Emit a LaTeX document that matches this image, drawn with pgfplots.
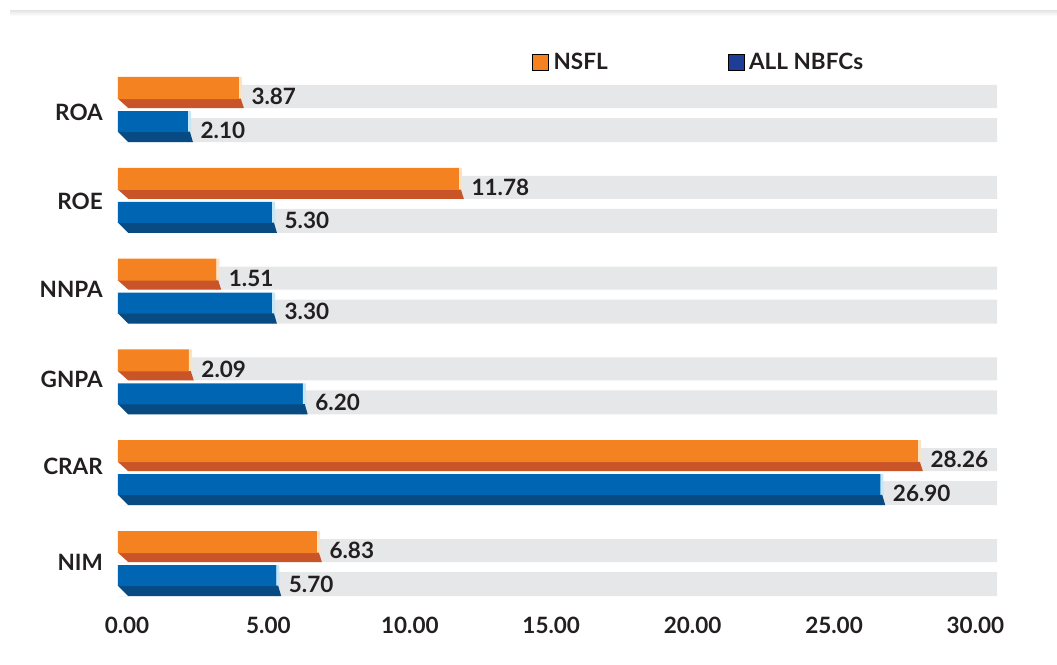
\documentclass[border=0pt]{standalone}
\usepackage{pgfplots}
\pgfplotsset{compat=1.18}
\usepackage{pgfplotstable}
\usepackage{fontspec}
\setmainfont{Lato}
\definecolor{org}{HTML}{F58220}
\definecolor{odark}{HTML}{C85427}
\definecolor{ocream}{HTML}{FDE3C6}
\definecolor{blu}{HTML}{0066B3}
\definecolor{bdark}{HTML}{074B82}
\definecolor{blight}{HTML}{C6E7F8}
\definecolor{band}{HTML}{E6E7E8}
\definecolor{txt}{HTML}{231F20}
\definecolor{legblue}{HTML}{1F3D96}

% end caps and left cuts of the 3D-looking bars (offsets in pt from the group centre)
\pgfdeclareplotmark{oend}{%
  \pgfsetfillcolor{ocream}%
  \pgfpathmoveto{\pgfqpoint{-0.3pt}{32.5pt}}\pgfpathlineto{\pgfqpoint{2.5pt}{32.5pt}}%
  \pgfpathlineto{\pgfqpoint{3.2pt}{10.5pt}}\pgfpathlineto{\pgfqpoint{-0.3pt}{10.5pt}}\pgfpathclose\pgfusepath{fill}%
  \pgfsetfillcolor{odark}%
  \pgfpathmoveto{\pgfqpoint{-0.5pt}{10.8pt}}\pgfpathlineto{\pgfqpoint{1.5pt}{10.8pt}}%
  \pgfpathlineto{\pgfqpoint{4.5pt}{1.5pt}}\pgfpathlineto{\pgfqpoint{-0.5pt}{1.5pt}}\pgfpathclose\pgfusepath{fill}%
}
\pgfdeclareplotmark{bend}{%
  \pgfsetfillcolor{blight}%
  \pgfpathmoveto{\pgfqpoint{-0.3pt}{-1.5pt}}\pgfpathlineto{\pgfqpoint{2.5pt}{-1.5pt}}%
  \pgfpathlineto{\pgfqpoint{3.2pt}{-22.5pt}}\pgfpathlineto{\pgfqpoint{-0.3pt}{-22.5pt}}\pgfpathclose\pgfusepath{fill}%
  \pgfsetfillcolor{bdark}%
  \pgfpathmoveto{\pgfqpoint{-0.5pt}{-22.2pt}}\pgfpathlineto{\pgfqpoint{1.5pt}{-22.2pt}}%
  \pgfpathlineto{\pgfqpoint{4.5pt}{-32.5pt}}\pgfpathlineto{\pgfqpoint{-0.5pt}{-32.5pt}}\pgfpathclose\pgfusepath{fill}%
}
\pgfdeclareplotmark{owhite}{%
  \pgfsetfillcolor{white}%
  \pgfpathmoveto{\pgfqpoint{-1pt}{10.5pt}}\pgfpathlineto{\pgfqpoint{0pt}{10.5pt}}%
  \pgfpathlineto{\pgfqpoint{10pt}{1.5pt}}\pgfpathlineto{\pgfqpoint{10pt}{1.0pt}}%
  \pgfpathlineto{\pgfqpoint{-1pt}{1.0pt}}\pgfpathclose\pgfusepath{fill}%
}
\pgfdeclareplotmark{bwhite}{%
  \pgfsetfillcolor{white}%
  \pgfpathmoveto{\pgfqpoint{-1pt}{-22.5pt}}\pgfpathlineto{\pgfqpoint{0pt}{-22.5pt}}%
  \pgfpathlineto{\pgfqpoint{10pt}{-32.5pt}}\pgfpathlineto{\pgfqpoint{10pt}{-33pt}}%
  \pgfpathlineto{\pgfqpoint{-1pt}{-33pt}}\pgfpathclose\pgfusepath{fill}%
}

% y: ROA=5 ... NIM=0 ; len = drawn bar length, lab = printed value
\pgfplotstableread{
y len lab
5 4.29 3.87
4 12.07 11.78
3 3.49 1.51
2 2.52 2.09
1 28.30 28.26
0 7.05 6.83
}\nsfl
\pgfplotstableread{
y len lab
5 2.49 2.10
4 5.46 5.30
3 5.46 3.30
2 6.55 6.20
1 26.97 26.90
0 5.61 5.70
}\nbfc

\newcommand{\lf}{\fontsize{22.5}{26}\selectfont\bfseries}

\begin{document}
\begin{tikzpicture}
\useasboundingbox (0,0) rectangle (1057pt,664pt);
\shade[top color=black!9, bottom color=white] (10pt,648pt) rectangle (1057pt,653pt);
\begin{axis}[
  at={(118pt,55.1pt)}, anchor=south west,
  scale only axis, width=879pt, height=544.8pt,
  xmin=0, xmax=31.08, ymin=-0.5, ymax=5.5,
  clip=false,
  axis line style={draw=none}, tick style={draw=none},
  xtick={0,5,10,15,20,25,30},
  xticklabels={0.00,5.00,10.00,15.00,20.00,25.00,30.00},
  ytick={0.017,1.074,2.030,3.023,3.992,4.967},
  yticklabels={NIM,CRAR,GNPA,NNPA,ROE,ROA},
  ticklabel style={font=\lf, text=txt, inner sep=0pt},
  xticklabel style={anchor=north, xshift=9pt, yshift=-7.5pt},
  yticklabel style={anchor=east, xshift=-15pt},
  legend columns=2,
  legend image code/.code={\fill[#1] (0pt,-8pt) rectangle (16pt,8pt);},
  legend style={at={(0.471,1.003)}, anchor=west, draw=none, fill=none,
    inner sep=0pt, font=\lf, text=txt, nodes={inner sep=0pt},
    /tikz/every odd column/.append style={column sep=5pt},
    /tikz/every even column/.append style={column sep=120pt}},
]
% grey background bands
\addplot[forget plot, xbar, bar width=23pt, bar shift=13pt, fill=band, draw=none] table[x expr=31.08, y=y] {\nsfl};
\addplot[forget plot, xbar, bar width=24pt, bar shift=-20.5pt, fill=band, draw=none] table[x expr=31.08, y=y] {\nbfc};
% NSFL bars
\addplot[forget plot, xbar, bar width=9.5pt, bar shift=6.25pt, fill=odark, draw=none] table[x=len, y=y] {\nsfl};
\addplot[forget plot, xbar, bar width=22pt, bar shift=21.5pt, fill=org, draw=none] table[x=len, y=y] {\nsfl};
% ALL NBFCs bars
\addplot[forget plot, xbar, bar width=10.5pt, bar shift=-27.25pt, fill=bdark, draw=none] table[x=len, y=y] {\nbfc};
\addplot[forget plot, xbar, bar width=21pt, bar shift=-12pt, fill=blu, draw=none] table[x=len, y=y] {\nbfc};
% bevel details
\addplot[forget plot, only marks, mark=owhite] table[x expr=0, y=y] {\nsfl};
\addplot[forget plot, only marks, mark=bwhite] table[x expr=0, y=y] {\nbfc};
\addplot[forget plot, only marks, mark=oend] table[x=len, y=y] {\nsfl};
\addplot[forget plot, only marks, mark=bend] table[x=len, y=y] {\nbfc};
% value labels
\addplot[forget plot, draw=none, mark=none, nodes near coords, point meta=explicit symbolic,
  nodes near coords style={anchor=west, xshift=12pt, yshift=13pt, font=\lf, text=txt, inner sep=0pt}]
  table[x=len, y=y, meta=lab] {\nsfl};
\addplot[forget plot, draw=none, mark=none, nodes near coords, point meta=explicit symbolic,
  nodes near coords style={anchor=west, xshift=12pt, yshift=-20.5pt, font=\lf, text=txt, inner sep=0pt}]
  table[x=len, y=y, meta=lab] {\nbfc};
% legend
\addlegendimage{fill=org}
\addlegendentry{NSFL}
\addlegendimage{fill=legblue}
\addlegendentry{ALL NBFCs}
\end{axis}
\end{tikzpicture}
\end{document}
